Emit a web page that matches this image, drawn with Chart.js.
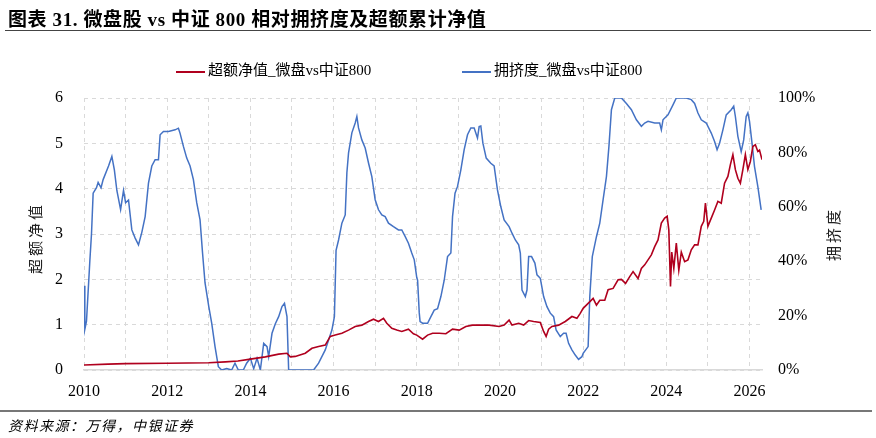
<!DOCTYPE html>
<html>
<head>
<meta charset="utf-8">
<script src="https://cdn.jsdelivr.net/npm/chart.js@4.4.1/dist/chart.umd.min.js"></script>
<style>
  body { margin: 0; background: #fff; }
  #wrap { position: relative; width: 876px; height: 438px; font-family: "Liberation Serif", "Noto Sans CJK SC", serif; color: #000; }
  #title { position: absolute; left: 8px; top: 4px; font-size: 19px; font-weight: bold; letter-spacing: 0.6px; white-space: nowrap; }
  #titleLine { position: absolute; left: 5px; top: 30px; width: 866px; border-top: 1.5px solid #444; }
  #legend { position: absolute; left: 0; top: 61px; width: 876px; height: 20px; font-size: 15px; }
  .item { position: absolute; top: 0; white-space: nowrap; line-height: 18px; }
  .swatch { display: inline-block; width: 29px; height: 2px; vertical-align: middle; margin-right: 3px; }
  #footLine { position: absolute; left: 0; top: 410px; width: 872px; border-top: 2px solid #777; }
  #source { position: absolute; left: 8px; top: 415px; font-size: 14px; font-style: italic; letter-spacing: 1.5px; white-space: nowrap; }
</style>
</head>
<body>
<div id="wrap">
  <div id="title">图表 31. 微盘股 vs 中证 800 相对拥挤度及超额累计净值</div>
  <div id="titleLine"></div>
  <canvas id="myChart" width="876" height="438"></canvas>
  <div id="legend"></div>
  <div id="footLine"></div>
  <div id="source">资料来源：万得，中银证券</div>
</div>
<script>
// 超额净值 (left axis)
const navYears = [2010.00, 2010.58, 2011.00, 2012.00, 2013.00, 2013.40, 2013.70, 2014.00, 2014.36, 2014.68,
  2014.88, 2014.96, 2015.08, 2015.32, 2015.48, 2015.64, 2015.80, 2015.92, 2016.04, 2016.20,
  2016.36, 2016.52, 2016.68, 2016.84, 2016.96, 2017.08, 2017.20, 2017.28, 2017.40, 2017.52,
  2017.64, 2017.80, 2017.92, 2018.00, 2018.14, 2018.26, 2018.38, 2018.54, 2018.70, 2018.86,
  2019.02, 2019.18, 2019.34, 2019.50, 2019.74, 2019.98, 2020.10, 2020.22, 2020.29, 2020.45,
  2020.57, 2020.69, 2020.81, 2020.97, 2021.05, 2021.11, 2021.17, 2021.25, 2021.41, 2021.57,
  2021.73, 2021.85, 2021.93, 2022.00, 2022.12, 2022.24, 2022.32, 2022.40, 2022.52, 2022.60,
  2022.72, 2022.84, 2022.92, 2023.02, 2023.12, 2023.20, 2023.32, 2023.40, 2023.48, 2023.56,
  2023.64, 2023.72, 2023.80, 2023.88, 2023.96, 2024.02, 2024.06, 2024.10, 2024.13, 2024.18,
  2024.24, 2024.30, 2024.36, 2024.44, 2024.52, 2024.60, 2024.68, 2024.76, 2024.84, 2024.90,
  2024.94, 2025.00, 2025.08, 2025.16, 2025.24, 2025.32, 2025.40, 2025.48, 2025.54, 2025.60,
  2025.66, 2025.72, 2025.78, 2025.84, 2025.90, 2025.96, 2026.02, 2026.08, 2026.14, 2026.20,
  2026.24, 2026.30];
const navValues = [0.11, 0.13, 0.14, 0.15, 0.16, 0.18, 0.20, 0.24, 0.29, 0.35,
  0.37, 0.29, 0.30, 0.37, 0.48, 0.52, 0.55, 0.74, 0.77, 0.81,
  0.88, 0.96, 0.99, 1.07, 1.12, 1.07, 1.14, 1.03, 0.92, 0.88,
  0.85, 0.90, 0.80, 0.77, 0.68, 0.77, 0.81, 0.81, 0.80, 0.90,
  0.88, 0.96, 0.99, 0.99, 0.99, 0.96, 0.99, 1.10, 0.99, 1.03,
  0.99, 1.09, 1.07, 1.05, 0.85, 0.74, 0.90, 0.96, 0.99, 1.07,
  1.18, 1.14, 1.25, 1.36, 1.47, 1.58, 1.43, 1.54, 1.54, 1.77,
  1.80, 1.99, 2.00, 1.91, 2.06, 2.17, 2.02, 2.24, 2.32, 2.43,
  2.54, 2.72, 2.87, 3.24, 3.35, 3.39, 3.09, 1.84, 2.60, 2.24,
  2.80, 2.20, 2.60, 2.39, 2.43, 2.65, 2.76, 2.76, 3.17, 3.28,
  3.68, 3.17, 3.35, 3.53, 3.72, 3.68, 4.12, 4.27, 4.53, 4.75,
  4.42, 4.23, 4.12, 4.42, 4.75, 4.42, 4.60, 4.93, 4.97, 4.82,
  4.85, 4.64];

// 拥挤度 (right axis, %)
const crowdYears = [2010.00, 2010.02, 2010.06, 2010.14, 2010.18, 2010.22, 2010.30, 2010.34, 2010.41, 2010.46,
  2010.59, 2010.67, 2010.73, 2010.79, 2010.88, 2010.95, 2011.00, 2011.07, 2011.15, 2011.23,
  2011.31, 2011.39, 2011.47, 2011.55, 2011.63, 2011.71, 2011.79, 2011.83, 2011.91, 2012.03,
  2012.19, 2012.27, 2012.31, 2012.39, 2012.47, 2012.55, 2012.63, 2012.71, 2012.79, 2012.85,
  2012.91, 2013.00, 2013.07, 2013.15, 2013.23, 2013.31, 2013.43, 2013.55, 2013.63, 2013.71,
  2013.83, 2013.91, 2014.00, 2014.08, 2014.16, 2014.24, 2014.32, 2014.40, 2014.44, 2014.52,
  2014.60, 2014.68, 2014.76, 2014.82, 2014.88, 2014.90, 2014.92, 2015.08, 2015.52, 2015.64,
  2015.80, 2015.96, 2016.02, 2016.06, 2016.12, 2016.20, 2016.28, 2016.32, 2016.36, 2016.44,
  2016.52, 2016.56, 2016.60, 2016.68, 2016.76, 2016.84, 2016.92, 2017.00, 2017.08, 2017.16,
  2017.24, 2017.32, 2017.44, 2017.56, 2017.64, 2017.72, 2017.80, 2017.88, 2017.94, 2018.00,
  2018.02, 2018.06, 2018.08, 2018.14, 2018.26, 2018.34, 2018.42, 2018.50, 2018.58, 2018.66,
  2018.74, 2018.82, 2018.86, 2018.92, 2018.98, 2019.06, 2019.14, 2019.22, 2019.30, 2019.38,
  2019.46, 2019.50, 2019.54, 2019.59, 2019.67, 2019.78, 2019.86, 2019.94, 2020.02, 2020.10,
  2020.22, 2020.29, 2020.37, 2020.45, 2020.49, 2020.53, 2020.61, 2020.65, 2020.69, 2020.76,
  2020.84, 2020.89, 2020.97, 2021.05, 2021.13, 2021.21, 2021.29, 2021.35, 2021.45, 2021.53,
  2021.59, 2021.65, 2021.73, 2021.81, 2021.89, 2021.97, 2022.00, 2022.12, 2022.16, 2022.22,
  2022.32, 2022.40, 2022.48, 2022.56, 2022.62, 2022.68, 2022.76, 2022.92, 2023.04, 2023.16,
  2023.28, 2023.40, 2023.48, 2023.56, 2023.72, 2023.84, 2023.88, 2023.92, 2024.04, 2024.16,
  2024.24, 2024.48, 2024.60, 2024.68, 2024.76, 2024.84, 2024.96, 2025.08, 2025.16, 2025.22,
  2025.28, 2025.36, 2025.44, 2025.56, 2025.62, 2025.66, 2025.72, 2025.80, 2025.86, 2025.92,
  2025.96, 2026.00, 2026.06, 2026.12, 2026.20, 2026.28];
const crowdValues = [31, 15, 18, 40, 50, 65, 67, 69, 67, 70,
  75, 78.5, 73.6, 66, 59, 66, 61.5, 62.5, 51.5, 48.5,
  46, 50.6, 56.4, 68.7, 75, 77.3, 77.3, 86.5, 87.7, 87.7,
  88.3, 88.9, 87, 82.2, 77.9, 75, 70, 61.5, 55.2, 43,
  32, 23.3, 17.2, 8.6, 1.2, 0, 0.5, 0, 2.5, 0,
  0, 2.5, 4.3, 0.5, 4.3, 0, 9.8, 8.6, 4.9, 13.5,
  17, 19.6, 23.3, 24.5, 19.6, 9.8, 0, 0, 0, 2.5,
  7.4, 14.7, 19.6, 44, 47.8, 54, 57, 72.5, 79.8, 87.2,
  90.8, 93.2, 89, 84.6, 81.6, 76.1, 71.1, 62.6, 58.9, 57,
  56.4, 54, 52.7, 51.5, 51.5, 49.1, 46.6, 43, 40.5, 34,
  33, 21, 17.8, 17.2, 17.2, 19.6, 22, 22.5, 27, 33,
  41.7, 43, 56.4, 65, 67.5, 73.6, 81, 86.5, 89, 89,
  85.3, 89.5, 89.7, 83.4, 77.9, 76, 75, 66.2, 60.1, 55.2,
  52.7, 50.3, 47.8, 46, 43, 29.4, 27, 29.4, 41.7, 41.7,
  39.3, 35, 33.7, 27, 23.3, 20.9, 19.6, 14.7, 12.3, 13.5,
  13.5, 9.8, 7.4, 5.5, 3.9, 4.9, 6.1, 8.6, 27, 41.7,
  49, 54, 62.6, 71.1, 82.2, 95.7, 100, 100, 98, 95.7,
  92, 89.6, 90.8, 91.4, 90.8, 90.8, 88.3, 92, 93.8, 97.5,
  100, 100, 99.4, 98, 94.5, 92, 90.8, 87.1, 84, 81,
  83.4, 88.3, 93.8, 95.7, 97, 93.2, 85.9, 80.3, 84.6, 93.2,
  94.5, 91.4, 83.4, 74.8, 67.4, 58.9];

const leftTicks = [0, 1, 2, 3, 4, 5, 6];
const rightTicks = [0, 20, 40, 60, 80, 100];

function toPoints(xs, ys) {
  const pts = [];
  for (let i = 0; i < xs.length; i++) {
    pts.push({ x: xs[i], y: ys[i] });
  }
  return pts;
}

// vertical axis titles, both read bottom-to-top as in the original
const axisTitles = {
  id: 'axisTitles',
  afterDraw(chart) {
    const ctx = chart.ctx;
    const area = chart.chartArea;
    const mid = (area.top + area.bottom) / 2;
    ctx.save();
    ctx.font = '15px "Noto Sans CJK SC"';
    ctx.fillStyle = '#222';
    ctx.textAlign = 'center';
    ctx.textBaseline = 'middle';
    ctx.letterSpacing = '3px';
    [['超额净值', 35, mid + 4], ['拥挤度', 833, mid]].forEach(function (t) {
      ctx.save();
      ctx.translate(t[1], t[2]);
      ctx.rotate(-Math.PI / 2);
      ctx.fillText(t[0], 0, 0);
      ctx.restore();
    });
    ctx.restore();
  }
};

const tickFont = { family: 'Liberation Serif', size: 16 };

const chart = new Chart(document.getElementById('myChart'), {
  type: 'line',
  data: {
    datasets: [{
      label: '超额净值_微盘vs中证800',
      data: toPoints(navYears, navValues),
      borderColor: '#B0001E',
      borderWidth: 1.6,
      yAxisID: 'y'
    }, {
      label: '拥挤度_微盘vs中证800',
      data: toPoints(crowdYears, crowdValues),
      borderColor: '#4472C4',
      borderWidth: 1.5,
      yAxisID: 'y1'
    }]
  },
  options: {
    responsive: false,
    animation: false,
    layout: { padding: { top: 98, left: 0, right: 0, bottom: 0 } },
    elements: { point: { radius: 0 }, line: { tension: 0 } },
    plugins: {
      legend: { display: false },
      tooltip: { enabled: false }
    },
    scales: {
      x: {
        type: 'linear',
        min: 2010,
        max: 2026.3,
        afterFit: function (s) { s.height = 68; },
        grid: { color: '#d9d9d9', drawTicks: false },
        border: { display: true, color: '#d9d9d9', width: 1.5, dash: [4, 4] },
        ticks: {
          stepSize: 1,
          includeBounds: false,
          autoSkip: false,
          maxRotation: 0,
          padding: 12,
          color: '#000',
          font: tickFont,
          callback: function (v) { return v % 2 === 0 ? String(v) : ''; }
        }
      },
      y: {
        position: 'left',
        min: leftTicks[0],
        max: leftTicks[leftTicks.length - 1],
        afterFit: function (s) { s.width = 84; },
        afterBuildTicks: function (s) { s.ticks = leftTicks.map(v => ({ value: v })); },
        grid: { color: '#d9d9d9', drawTicks: false },
        border: { display: false, dash: [4, 4] },
        ticks: { padding: 21, color: '#000', font: tickFont }
      },
      y1: {
        position: 'right',
        min: rightTicks[0],
        max: rightTicks[rightTicks.length - 1],
        afterFit: function (s) { s.width = 114; },
        afterBuildTicks: function (s) { s.ticks = rightTicks.map(v => ({ value: v })); },
        grid: { drawOnChartArea: false, drawTicks: false },
        border: { display: false },
        ticks: { padding: 16, color: '#000', font: tickFont, callback: v => v + '%' }
      }
    }
  },
  plugins: [axisTitles]
});

// legend in html, built from the datasets
const legendX = [176, 462];
const legendBox = document.getElementById('legend');
chart.data.datasets.forEach(function (ds, i) {
  const item = document.createElement('div');
  item.className = 'item';
  item.style.left = legendX[i] + 'px';
  item.innerHTML = '<span class="swatch" style="background:' + ds.borderColor + '"></span>' + ds.label;
  legendBox.appendChild(item);
});
</script>
</body>
</html>
